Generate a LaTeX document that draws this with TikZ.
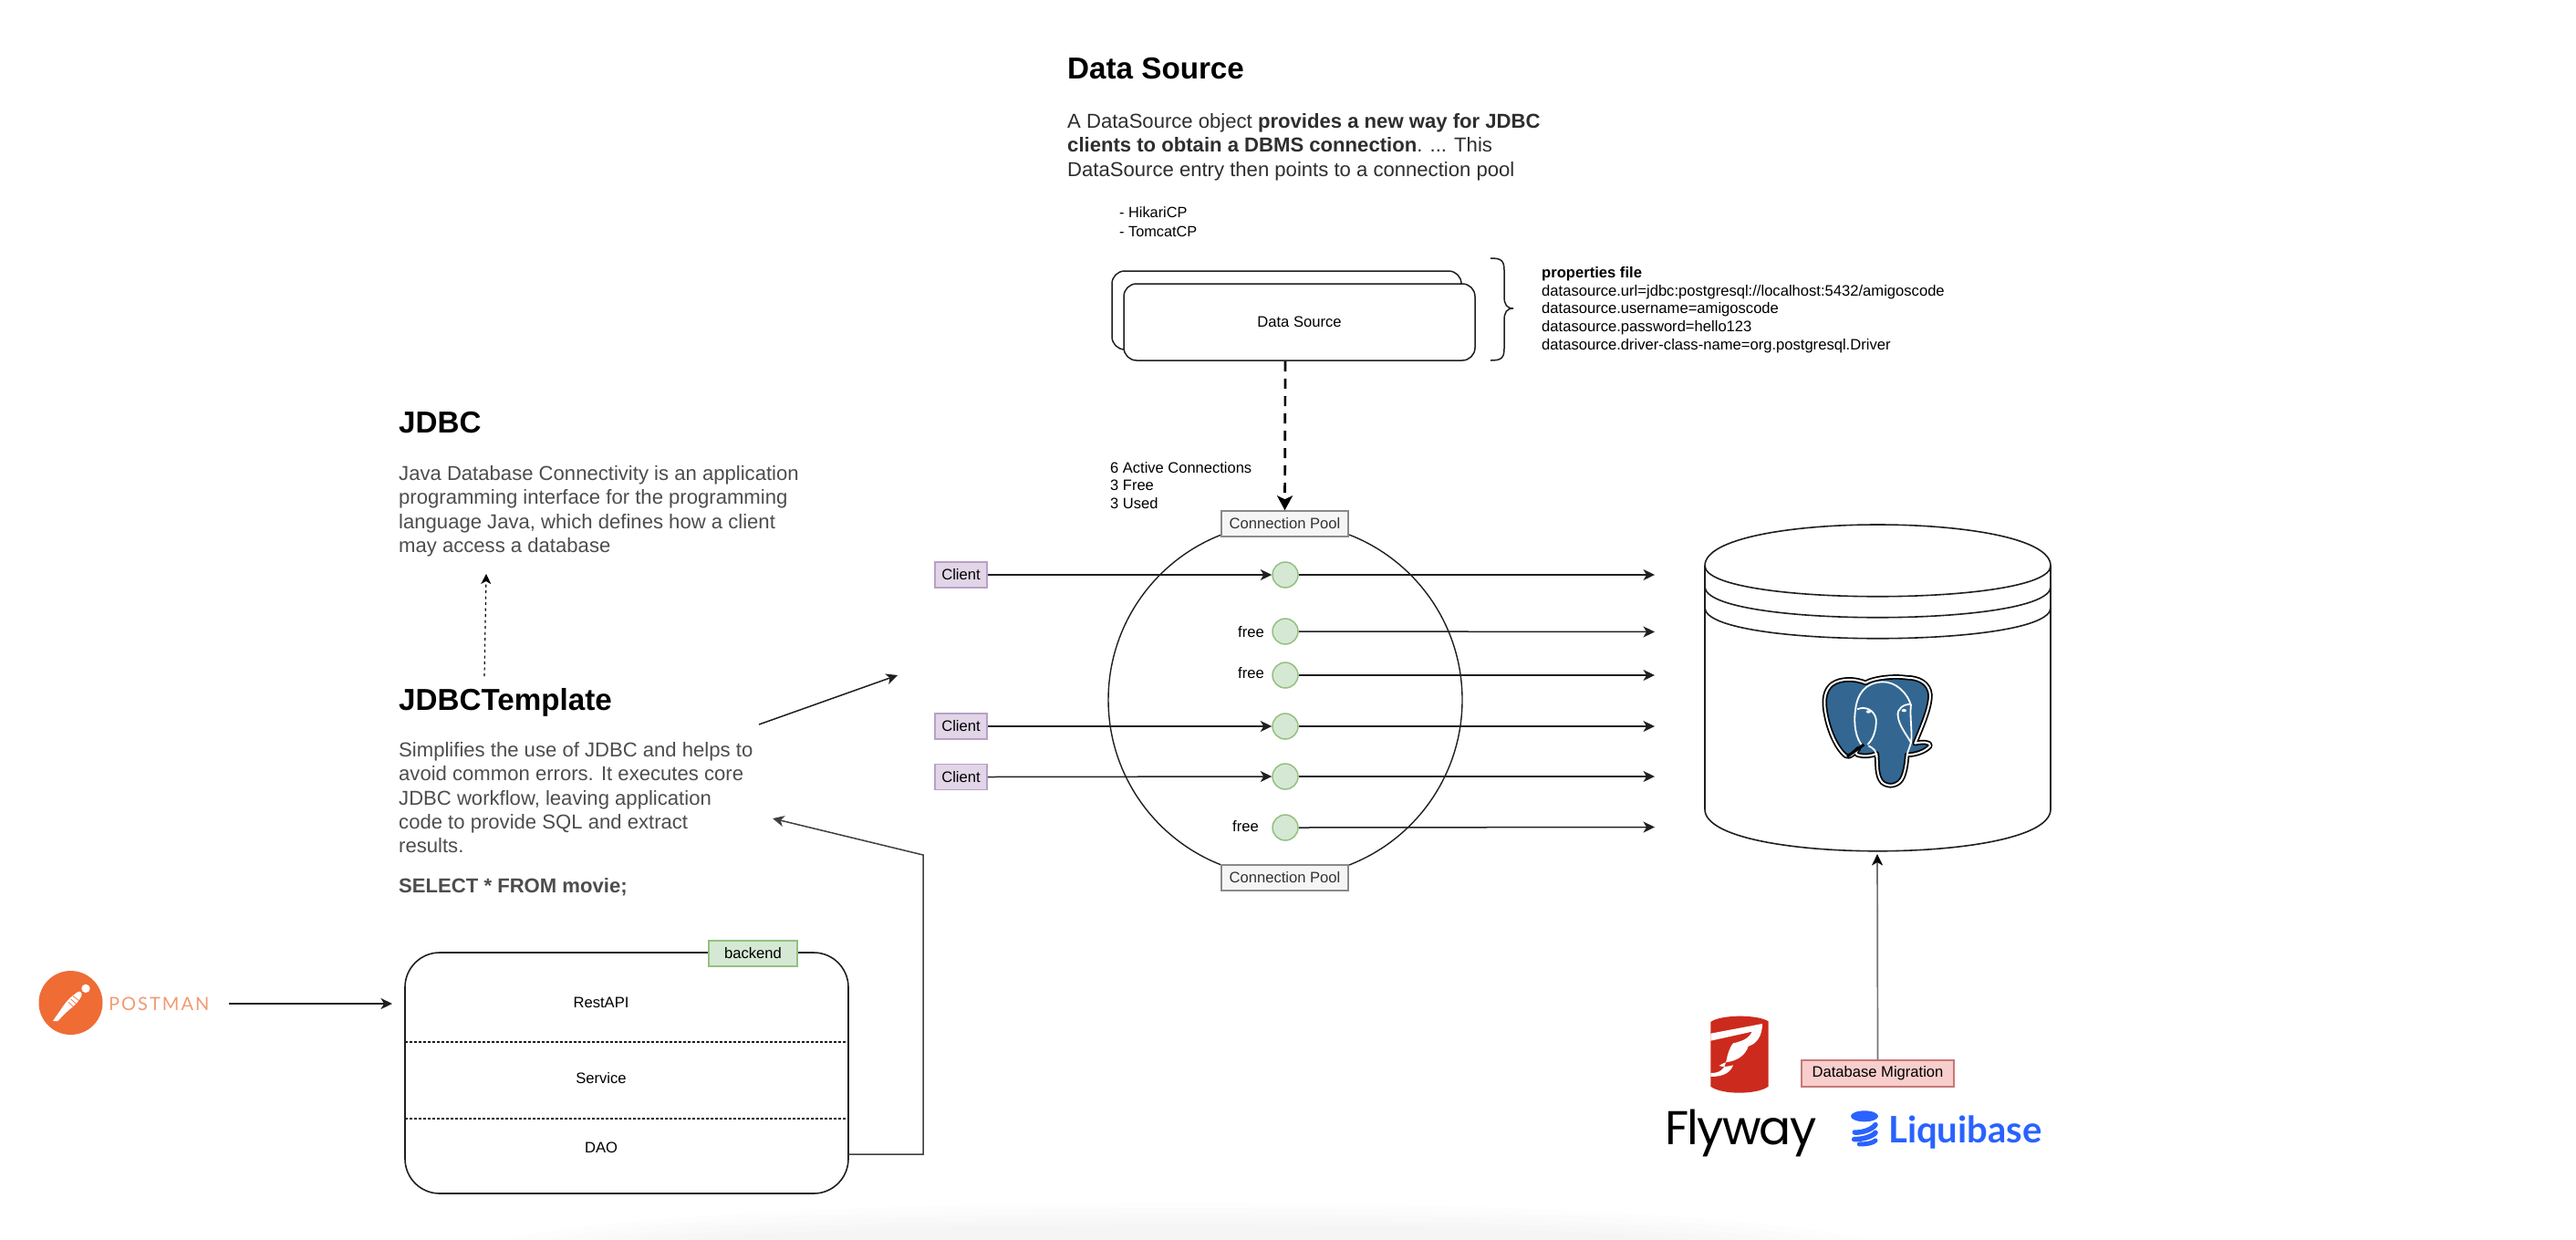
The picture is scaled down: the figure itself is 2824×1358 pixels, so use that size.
\documentclass[tikz,border=0pt]{standalone}
\usepackage{fontspec}
\setmainfont{Liberation Sans}
\newfontfamily\logofont{Poppins}
\newfontfamily\liqfont{Lato}
\newfontfamily\pmfont[LetterSpace=10]{Lato}
\usetikzlibrary{arrows.meta,calc}
\definecolor{txtgrey}{HTML}{4D4D4D}
\definecolor{txtdark}{HTML}{2E2E2E}
\definecolor{lnblk}{HTML}{1F1F1F}
\tikzset{
  x=1pt,y=-1pt,
  sm/.style={font=\fontsize{16.6}{20}\selectfont,inner sep=0pt},
  para/.style={font=\fontsize{22.1}{26.4}\selectfont,inner sep=0pt,anchor=north west,align=left,text=txtgrey},
  ttl/.style={font=\fontsize{33.2}{36}\selectfont\bfseries,inner sep=0pt,anchor=base west},
  tag/.style={sm,draw,line width=1.5pt,minimum height=28pt},
  clientbox/.style={tag,fill=purpleF,draw=purpleD,minimum width=57pt},
  poolbox/.style={tag,fill=greyF,draw=greyD,text=greyT,minimum width=139pt},
  conn/.style={circle,draw=greenD,fill=greenF,line width=1.5pt,minimum size=28pt,inner sep=0pt},
  arr/.style={draw=lnblk,line width=1.5pt,-{Stealth[length=12.5pt,width=12pt,inset=3.5pt]}},
  plainln/.style={line width=1.5pt,draw=lnblk},
  roundbox/.style={draw=lnblk,line width=1.5pt,rounded corners=14pt,fill=white,inner sep=0pt},
  dotline/.style={line width=1.5pt,draw=lnblk,dash pattern=on 2.5pt off 2.5pt},
}
\definecolor{purpleF}{HTML}{E1D5E7}\definecolor{purpleD}{HTML}{B9A0C6}
\definecolor{greyF}{HTML}{F5F5F5}\definecolor{greyD}{HTML}{8A8A8A}\definecolor{greyT}{HTML}{333333}
\definecolor{greenF}{HTML}{D5E8D4}\definecolor{greenD}{HTML}{95C080}
\definecolor{redF}{HTML}{F8CECC}\definecolor{redD}{HTML}{C47A76}
\definecolor{pgblue}{HTML}{336791}
\definecolor{flyred}{HTML}{CC2A1C}
\definecolor{liqblue}{HTML}{2962FF}
\definecolor{pmorange}{HTML}{EF6C35}
\definecolor{pmtext}{HTML}{F19A72}
\begin{document}
\begin{tikzpicture}
\useasboundingbox (0,0) rectangle (2824,1358);
\fill[white] (0,0) rectangle (2824,1358);
% faint shadow at the lower edge
\foreach \r/\q in {760/40,720/34,680/28,640/22,600/16}
  \fill[black,opacity=0.007] (1300,1370) ellipse [x radius=\r,y radius=\q+12];

% ---------- Data Source text
\node[ttl] (dstitle) at (1170,86) {Data Source};
\node[para,text=txtdark,font=\fontsize{22.1}{26.5}\selectfont] (dspara) at (1170,124)
  {A DataSource object \textbf{provides a new way for JDBC}\\
   \textbf{clients to obtain a DBMS connection}. ... This\\
   DataSource entry then points to a connection pool};
\node[sm,anchor=north west,align=left,font=\fontsize{16.3}{21}\selectfont] (cps) at (1227,226) {- HikariCP\\- TomcatCP};

% Data source stacked boxes
\node[roundbox,minimum width=383pt,minimum height=86pt] (dsback) at (1410.5,340) {};
\node[roundbox,sm,minimum width=385pt,minimum height=84pt] (ds) at (1424.5,353) {Data Source};
\draw[line width=1.5pt,draw=lnblk] (1634,283) .. controls (1645,283) and (1649,285) .. (1649,296)
  -- (1649,325) .. controls (1649,334) and (1652,338) .. (1659,338)
  .. controls (1652,338) and (1649,342) .. (1649,351)
  -- (1649,382) .. controls (1649,393) and (1645,395) .. (1634,395);
\node[sm,anchor=north west,align=left,font=\fontsize{16.6}{19.8}\selectfont] (props) at (1690,292)
  {\textbf{properties file}\\
   datasource.url=jdbc:postgresql://localhost:5432/amigoscode\\
   datasource.username=amigoscode\\
   datasource.password=hello123\\
   datasource.driver-class-name=org.postgresql.Driver};

% ---------- pool
\node[sm,anchor=north west,align=left,font=\fontsize{16.5}{19.7}\selectfont] (counts) at (1217,506) {6 Active Connections\\3 Free\\3 Used};
\node[circle,draw=lnblk,line width=1.4pt,minimum size=388pt,inner sep=0pt] (pool) at (1409,767) {};
\node[poolbox] (pooltop) at (1408.5,574) {Connection Pool};
\node[poolbox] (poolbot) at (1408.5,962) {Connection Pool};
\coordinate (dsout) at (1409,396);
\draw[line width=2.7pt,draw=black,dash pattern=on 11pt off 8pt,-{Stealth[length=16pt,width=17pt,inset=4pt]}] (dsout) -- (pooltop.north);

\node[conn] (p1) at (1409,630) {};
\node[conn] (p2) at (1409,692) {};
\node[conn] (p3) at (1409,740) {};
\node[conn] (p4) at (1409,796) {};
\node[conn] (p5) at (1409,851) {};
\node[conn] (p6) at (1409,907) {};
\node[sm,anchor=east] (f2) at (1386,693) {free};
\node[sm,anchor=east] (f3) at (1386,738) {free};
\node[sm,anchor=east] (f6) at (1380,906) {free};
\node[clientbox] (c1) at (1053.5,630) {Client};
\node[clientbox] (c4) at (1053.5,796) {Client};
\node[clientbox] (c5) at (1053.5,851.5) {Client};
\draw[arr] (c1.east) -- (p1.west);
\draw[arr] (c4.east) -- (p4.west);
\draw[arr] (c5.east) -- (p5.west);
\foreach \i/\yy in {1/630,2/692.5,3/740,4/796,5/851,6/906.5}{
  \coordinate (t\i) at (1814,\yy);
  \draw[arr] (p\i.east) -- (t\i);
}

% ---------- database
\coordinate (dbL) at (1869,620); \coordinate (dbR) at (2248,620);
\coordinate (dbbot) at (2058,936);
\draw[line width=1.6pt,draw=lnblk,fill=white]
  (1869,620) .. controls (1869,560) and (2248,560) .. (2248,620)
  -- (2248,887) .. controls (2248,948) and (1869,948) .. (1869,887) -- cycle;
\draw[line width=1.6pt,draw=lnblk] (1869,620) .. controls (1869,665) and (2248,665) .. (2248,620);
\draw[line width=1.6pt,draw=lnblk] (1869,643) .. controls (1869,688) and (2248,688) .. (2248,643);
\draw[line width=1.6pt,draw=lnblk] (1869,666) .. controls (1869,711) and (2248,711) .. (2248,666);
% elephant
\begin{scope}[shift={(1980,720)},x=0.3333pt,y=-0.3333pt]
  \def\elephant{(195,85) .. controls (165,72) and (115,68) .. (85,90)
    .. controls (62,108) and (58,140) .. (62,170)
    .. controls (70,230) and (95,295) .. (130,325)
    .. controls (145,332) and (155,318) .. (172,302)
    .. controls (165,310) and (160,318) .. (170,322)
    .. controls (190,328) and (215,325) .. (232,318)
    .. controls (235,350) and (230,390) .. (250,412)
    .. controls (270,430) and (305,425) .. (318,395)
    .. controls (328,370) and (330,345) .. (332,322)
    .. controls (360,322) and (395,310) .. (408,292)
    .. controls (410,280) and (385,278) .. (358,284)
    .. controls (378,235) and (408,170) .. (408,125)
    .. controls (405,85) and (370,68) .. (330,68)
    .. controls (290,62) and (225,68) .. (195,85) -- cycle}
  \fill[pgblue] \elephant;
  \draw[black,line width=5.5pt,line join=round] \elephant;
  \draw[white,line width=2pt,line join=round] \elephant;
  \draw[white,line width=1.8pt] (185,292) .. controls (165,270) and (155,225) .. (162,175)
     .. controls (168,120) and (195,85) .. (250,82)
     .. controls (295,80) and (335,120) .. (345,160);
  \draw[white,line width=1.8pt] (168,172) .. controls (195,160) and (225,175) .. (230,205)
     .. controls (232,235) and (222,270) .. (202,288);
  \draw[white,line width=1.8pt] (345,155) .. controls (320,155) and (298,170) .. (302,195)
     .. controls (305,225) and (330,255) .. (345,282);
  \draw[white,line width=1.8pt] (345,155) .. controls (340,200) and (350,240) .. (345,282) -- (332,320);
  \draw[white,line width=1.8pt] (205,292) .. controls (222,300) and (232,310) .. (232,330);
  \draw[black,line width=3pt] (135,328) -- (190,288);
  \fill[white] (205,180) ellipse [x radius=8,y radius=5];
  \fill[white] (322,176) ellipse [x radius=8,y radius=5];
\end{scope}

% ---------- migration
\node[tag,fill=redF,draw=redD,minimum width=167pt,minimum height=29pt] (mig) at (2058.5,1176.5) {Database Migration};
\draw[draw=black!55,line width=1.7pt,-{Stealth[length=12.5pt,width=12pt,inset=3.5pt,black]}] (mig.north) -- (dbbot);

% Flyway logo
\begin{scope}[shift={(1820,1100)},x=0.3333pt,y=-0.3333pt]
  \fill[flyred] (166,60) .. controls (200,35) and (320,35) .. (356,58) -- (356,272) .. controls (320,300) and (200,300) .. (166,272) -- cycle;
  \fill[white] (166,98) -- (336,66) .. controls (336,105) and (318,132) .. (290,140)
    .. controls (282,165) and (262,182) .. (232,190)
    .. controls (215,192) and (205,196) .. (194,204)
    .. controls (205,210) and (225,206) .. (240,202)
    .. controls (232,225) and (210,240) .. (166,240) -- (166,228)
    .. controls (195,228) and (212,218) .. (218,185)
    .. controls (222,165) and (230,140) .. (240,130)
    .. controls (262,125) and (290,118) .. (302,92)
    -- (166,122) -- cycle;
\end{scope}
\node[inner sep=0pt,anchor=base west,text=black,font=\logofont\fontsize{52}{60}\selectfont\addfontfeature{LetterSpace=-3.5}] (flyway) at (1825,1254) {Flyway};

% Liquibase logo
\begin{scope}[shift={(1820,1100)},x=0.3333pt,y=-0.3333pt]
  \fill[liqblue] (672,370) ellipse [x radius=45,y radius=18];
  \draw[liqblue,line width=5.5pt,line cap=round] (640,423) .. controls (670,425) and (700,410) .. (708,398);
  \draw[liqblue,line width=5.5pt,line cap=round] (638,446) .. controls (670,446) and (700,435) .. (708,424);
  \draw[liqblue,line width=5pt,line cap=round] (655,462) .. controls (680,462) and (700,458) .. (708,450);
\end{scope}
\node[inner sep=0pt,anchor=base west,text=liqblue,font=\liqfont\bfseries\fontsize{40}{48}\selectfont] (liquibase) at (2070,1252) {Liquibase};

% ---------- JDBC
\node[ttl] (jdbct) at (437,474.5) {JDBC};
\node[para] (jdbcp) at (437,510)
  {Java Database Connectivity is an application\\
   programming interface for the programming\\
   language Java, which defines how a client\\
   may access a database};
\node[ttl] (tplt) at (437,778) {JDBCTemplate};
\node[para] (tplp) at (437,813)
  {Simplifies the use of JDBC and helps to\\
   avoid common errors. It executes core\\
   JDBC workflow, leaving application\\
   code to provide SQL and extract\\
   results.};
\node[para,font=\fontsize{22.1}{26.4}\selectfont\bfseries,anchor=base west] (sel) at (437,978) {SELECT * FROM movie;};
\coordinate (dashfrom) at (531,741);
\coordinate (dashto) at (533,629);
\draw[draw=black,line width=1.2pt,dash pattern=on 3pt off 3.5pt,-{Stealth[length=11pt,width=11pt,inset=3pt]}] (dashfrom) -- (dashto);
\coordinate (ptrfrom) at (832,794);
\coordinate (ptrto) at (984,740);
\draw[arr] (ptrfrom) -- (ptrto);

% ---------- backend
\node[draw=lnblk,line width=1.6pt,rounded corners=38pt,minimum width=486pt,minimum height=264pt,inner sep=0pt] (be) at (687,1176) {};
\coordinate (d1l) at (444,1142); \coordinate (d1r) at (930,1142);
\coordinate (d2l) at (444,1226); \coordinate (d2r) at (930,1226);
\draw[dotline] (d1l) -- (d1r);
\draw[dotline] (d2l) -- (d2r);
\node[sm] (rest) at (659,1099) {RestAPI};
\node[sm] (svc) at (659,1182) {Service};
\node[sm] (dao) at (659,1258) {DAO};
\node[tag,fill=greenF,draw=greenD,minimum width=97pt,minimum height=28pt] (betag) at (825.5,1045) {backend};
\coordinate (exit) at (930,1265);
\coordinate (elbow1) at (1012,1265);
\coordinate (elbow2) at (1012,937);
\coordinate (exitto) at (847,897);
\draw[arr,draw=black!75] (exit) -- (elbow1) -- (elbow2) -- (exitto);

% ---------- Postman
\node[circle,fill=pmorange,minimum size=70pt,inner sep=0pt] (pm) at (77.5,1099) {};
\begin{scope}[shift={(30,1050)},x=0.3333pt,y=-0.3333pt]
  \fill[white] (192,100) circle (14);
  \fill[white] (165,112) .. controls (172,105) and (182,115) .. (178,125)
     .. controls (170,140) and (158,155) .. (140,168)
     .. controls (125,180) and (112,195) .. (100,207) -- (84,207)
     .. controls (95,190) and (110,170) .. (122,152)
     .. controls (135,135) and (150,122) .. (165,112) -- cycle;
  \draw[pmorange,line width=0.7pt] (150,125) -- (170,140) (143,135) -- (162,152) (135,145) -- (152,160);
\end{scope}
\node[inner sep=0pt,anchor=base west,text=pmtext,font=\pmfont\fontsize{20}{24}\selectfont] (pmt) at (119,1107.5) {POSTMAN};
\coordinate (pmout) at (251,1100);
\coordinate (bein) at (430,1100);
\draw[arr] (pmout) -- (bein);
\end{tikzpicture}
\end{document}
